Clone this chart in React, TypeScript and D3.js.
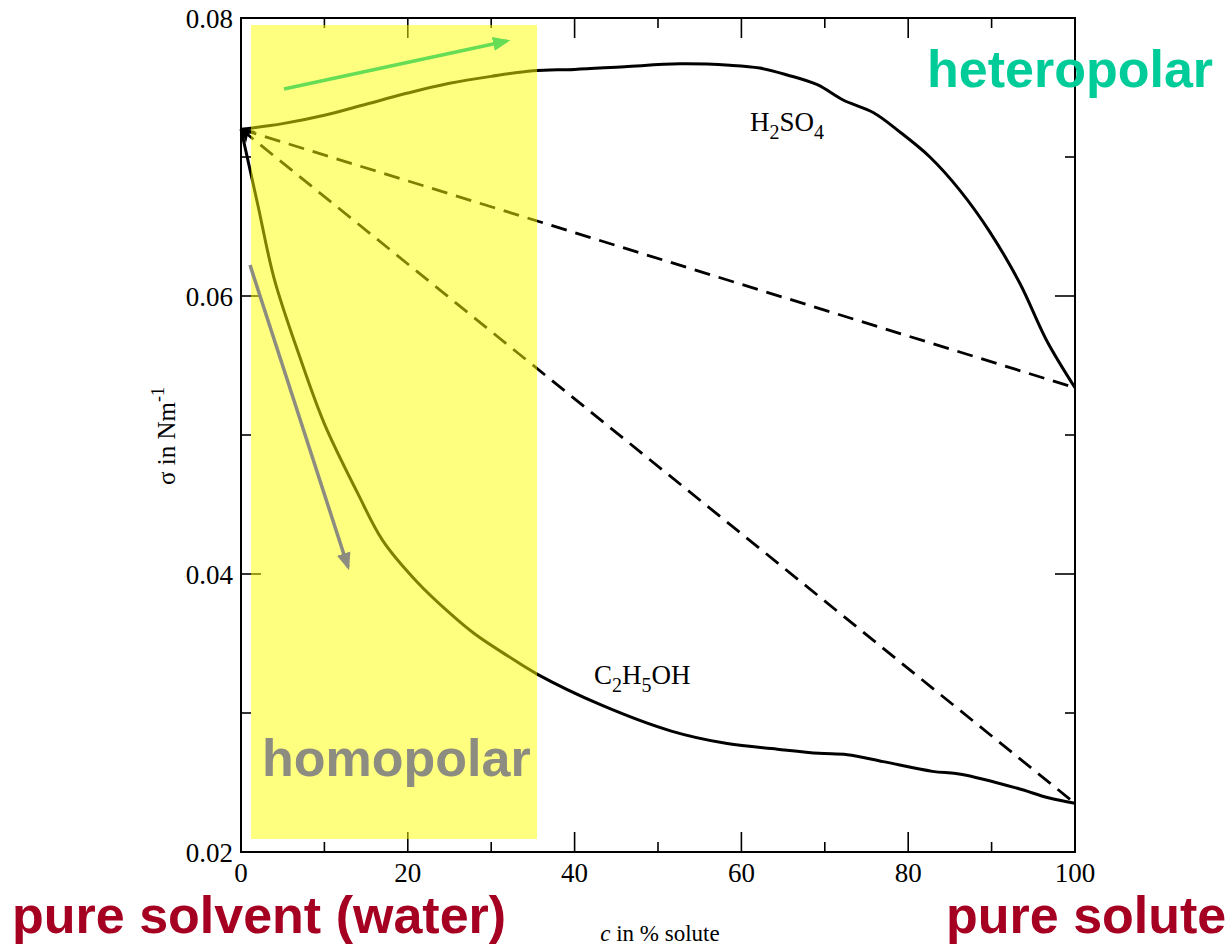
import React, { useEffect, useRef } from 'react';
import * as d3 from 'd3';

// surface tension vs concentration
const h2so4C = [0, 5, 10, 15, 20, 25, 30, 35, 40, 46, 52.6, 58.6, 62.2, 65.5, 69.1, 72.2, 75.8, 79, 82.6, 86.2, 89.8, 93.4, 96.6, 100];
const h2so4S = [0.0720, 0.0724, 0.0730, 0.0738, 0.0746, 0.0753, 0.0758, 0.0762, 0.0763, 0.0765, 0.0767, 0.0766, 0.0764, 0.0759, 0.0752, 0.0741, 0.0732, 0.0718, 0.0700, 0.0676, 0.0646, 0.0609, 0.0568, 0.0534];
const ethC = [0, 2, 4, 7, 10, 14, 17, 21, 25, 28, 32, 35.5, 43.1, 51.6, 58.3, 64.3, 69.3, 72.7, 77, 82.9, 86.3, 93, 96.8, 100];
const ethS = [0.0720, 0.0666, 0.0612, 0.0557, 0.0508, 0.0458, 0.0424, 0.0395, 0.0372, 0.0357, 0.0341, 0.0328, 0.0306, 0.0287, 0.0278, 0.0274, 0.0271, 0.0270, 0.0265, 0.0258, 0.0256, 0.0246, 0.0239, 0.0235];
const idealEnds = [0.0534, 0.0235];
const xTicks = [0, 20, 40, 60, 80, 100];
const yTicks = [0.02, 0.04, 0.06, 0.08];
const yTickLabels = ['0.02', '0.04', '0.06', '0.08'];
const shadeRange = [1.2, 35.5];

export default function App() {
    const ref = useRef<SVGSVGElement>(null);

    useEffect(() => {
        const svg = d3.select(ref.current);
        svg.selectAll('*').remove();

        const left = 241, right = 1075, top = 18, bottom = 852;
        const x = d3.scaleLinear().domain([0, 100]).range([left, right]);
        const y = d3.scaleLinear().domain([0.02, 0.08]).range([bottom, top]);
        const serif = '"Liberation Serif", "Times New Roman", serif';
        const sans = '"Liberation Sans", Arial, sans-serif';

        // frame
        svg.append('rect')
            .attr('x', left).attr('y', top)
            .attr('width', right - left).attr('height', bottom - top)
            .attr('fill', 'none').attr('stroke', '#000').attr('stroke-width', 2);

        // ticks on all four sides, pointing inwards
        const g = svg.append('g').attr('stroke', '#000').attr('stroke-width', 1.6);
        d3.range(0, 101, 10).forEach((c, i) => {
            const len = i % 2 === 0 ? 20 : 10;
            g.append('line').attr('x1', x(c)).attr('x2', x(c)).attr('y1', bottom).attr('y2', bottom - len);
            g.append('line').attr('x1', x(c)).attr('x2', x(c)).attr('y1', top).attr('y2', top + len);
        });
        d3.range(0.02, 0.0801, 0.01).forEach((v, i) => {
            const len = i % 2 === 0 ? 20 : 10;
            g.append('line').attr('x1', left).attr('x2', left + len).attr('y1', y(v)).attr('y2', y(v));
            g.append('line').attr('x1', right).attr('x2', right - len).attr('y1', y(v)).attr('y2', y(v));
        });

        svg.selectAll('.xt').data(xTicks).enter().append('text')
            .attr('x', d => x(d)).attr('y', bottom + 30)
            .attr('text-anchor', 'middle').attr('font-family', serif).attr('font-size', 27)
            .text(d => d);
        svg.selectAll('.yt').data(yTicks).enter().append('text')
            .attr('x', left - 8).attr('y', d => y(d) + 10)
            .attr('text-anchor', 'end').attr('font-family', serif).attr('font-size', 27)
            .text((d, i) => yTickLabels[i]);

        // axis titles
        const xl = svg.append('text').attr('x', 660).attr('y', 941)
            .attr('text-anchor', 'middle').attr('font-family', serif).attr('font-size', 23);
        xl.append('tspan').attr('font-style', 'italic').text('c');
        xl.append('tspan').text(' in % solute');

        const yl = svg.append('text').attr('transform', 'translate(175,436) rotate(-90)')
            .attr('text-anchor', 'middle').attr('font-family', serif).attr('font-size', 25);
        yl.append('tspan').text('σ in Nm');
        yl.append('tspan').attr('dy', -11).attr('font-size', 18).text('-1');

        // curves
        const line = d3.line<[number, number]>().x(d => x(d[0])).y(d => y(d[1])).curve(d3.curveCatmullRom.alpha(0.5));
        svg.append('path')
            .attr('d', line(h2so4C.map((c, i) => [c, h2so4S[i]])))
            .attr('fill', 'none').attr('stroke', '#000').attr('stroke-width', 3);
        svg.append('path')
            .attr('d', line(ethC.map((c, i) => [c, ethS[i]])))
            .attr('fill', 'none').attr('stroke', '#000').attr('stroke-width', 3);

        idealEnds.forEach(v => {
            svg.append('line')
                .attr('x1', x(0)).attr('y1', y(0.072)).attr('x2', x(100)).attr('y2', y(v))
                .attr('stroke', '#000').attr('stroke-width', 2.8).attr('stroke-dasharray', '16,9');
        });

        // small arrowhead at pure water point
        const ax = x(0), ay = y(0.072);
        svg.append('path')
            .attr('d', `M${ax},${ay - 1} L${ax + 15},${ay + 2} L${ax + 7},${ay + 5} L${ax + 5},${ay + 14} Z`)
            .attr('fill', '#000');

        // labels of the curves
        const t1 = svg.append('text').attr('x', 750).attr('y', 131)
            .attr('font-family', serif).attr('font-size', 27);
        t1.append('tspan').text('H');
        t1.append('tspan').attr('dy', 8).attr('font-size', 20).text('2');
        t1.append('tspan').attr('dy', -8).text('SO');
        t1.append('tspan').attr('dy', 8).attr('font-size', 20).text('4');

        const t2 = svg.append('text').attr('x', 594).attr('y', 684)
            .attr('font-family', serif).attr('font-size', 27);
        t2.append('tspan').text('C');
        t2.append('tspan').attr('dy', 8).attr('font-size', 20).text('2');
        t2.append('tspan').attr('dy', -8).text('H');
        t2.append('tspan').attr('dy', 8).attr('font-size', 20).text('5');
        t2.append('tspan').attr('dy', -8).text('OH');

        // yellow shading on top of the lines
        svg.append('rect')
            .attr('x', x(shadeRange[0])).attr('y', 25)
            .attr('width', x(shadeRange[1]) - x(shadeRange[0])).attr('height', 839 - 25)
            .attr('fill', '#ffff00').attr('opacity', 0.5);

        // arrows
        const defs = svg.append('defs');
        [['g', '#66dd55'], ['k', '#8c8c80']].forEach(([id, col]) => {
            defs.append('marker').attr('id', 'ah' + id)
                .attr('viewBox', '0 0 10 10').attr('refX', 8).attr('refY', 5)
                .attr('markerWidth', 5).attr('markerHeight', 5).attr('orient', 'auto')
                .append('path').attr('d', 'M0,1 L10,5 L0,9 Z').attr('fill', col);
        });
        svg.append('line').attr('x1', 284).attr('y1', 89).attr('x2', 507).attr('y2', 41)
            .attr('stroke', '#66dd55').attr('stroke-width', 3.5).attr('marker-end', 'url(#ahg)');
        svg.append('line').attr('x1', 250).attr('y1', 265).attr('x2', 348).attr('y2', 567)
            .attr('stroke', '#8c8c80').attr('stroke-width', 3.5).attr('marker-end', 'url(#ahk)');

        // big annotations
        svg.append('text').attr('x', 262).attr('y', 776)
            .attr('font-family', sans).attr('font-weight', 'bold').attr('font-size', 52)
            .attr('fill', '#8c8c80').text('homopolar');
        svg.append('text').attr('x', 927).attr('y', 87)
            .attr('font-family', sans).attr('font-weight', 'bold').attr('font-size', 52)
            .attr('fill', '#00cc99').text('heteropolar');
        svg.append('text').attr('x', 12).attr('y', 933)
            .attr('font-family', sans).attr('font-weight', 'bold').attr('font-size', 52)
            .attr('fill', '#a50021').text('pure solvent (water)');
        svg.append('text').attr('x', 946).attr('y', 933)
            .attr('font-family', sans).attr('font-weight', 'bold').attr('font-size', 52)
            .attr('fill', '#a50021').text('pure solute');
    }, []);

    return (
        <svg ref={ref} width={1232} height={947}
            style={{ position: 'absolute', left: 0, top: 0, background: '#fff' }} />
    );
}
